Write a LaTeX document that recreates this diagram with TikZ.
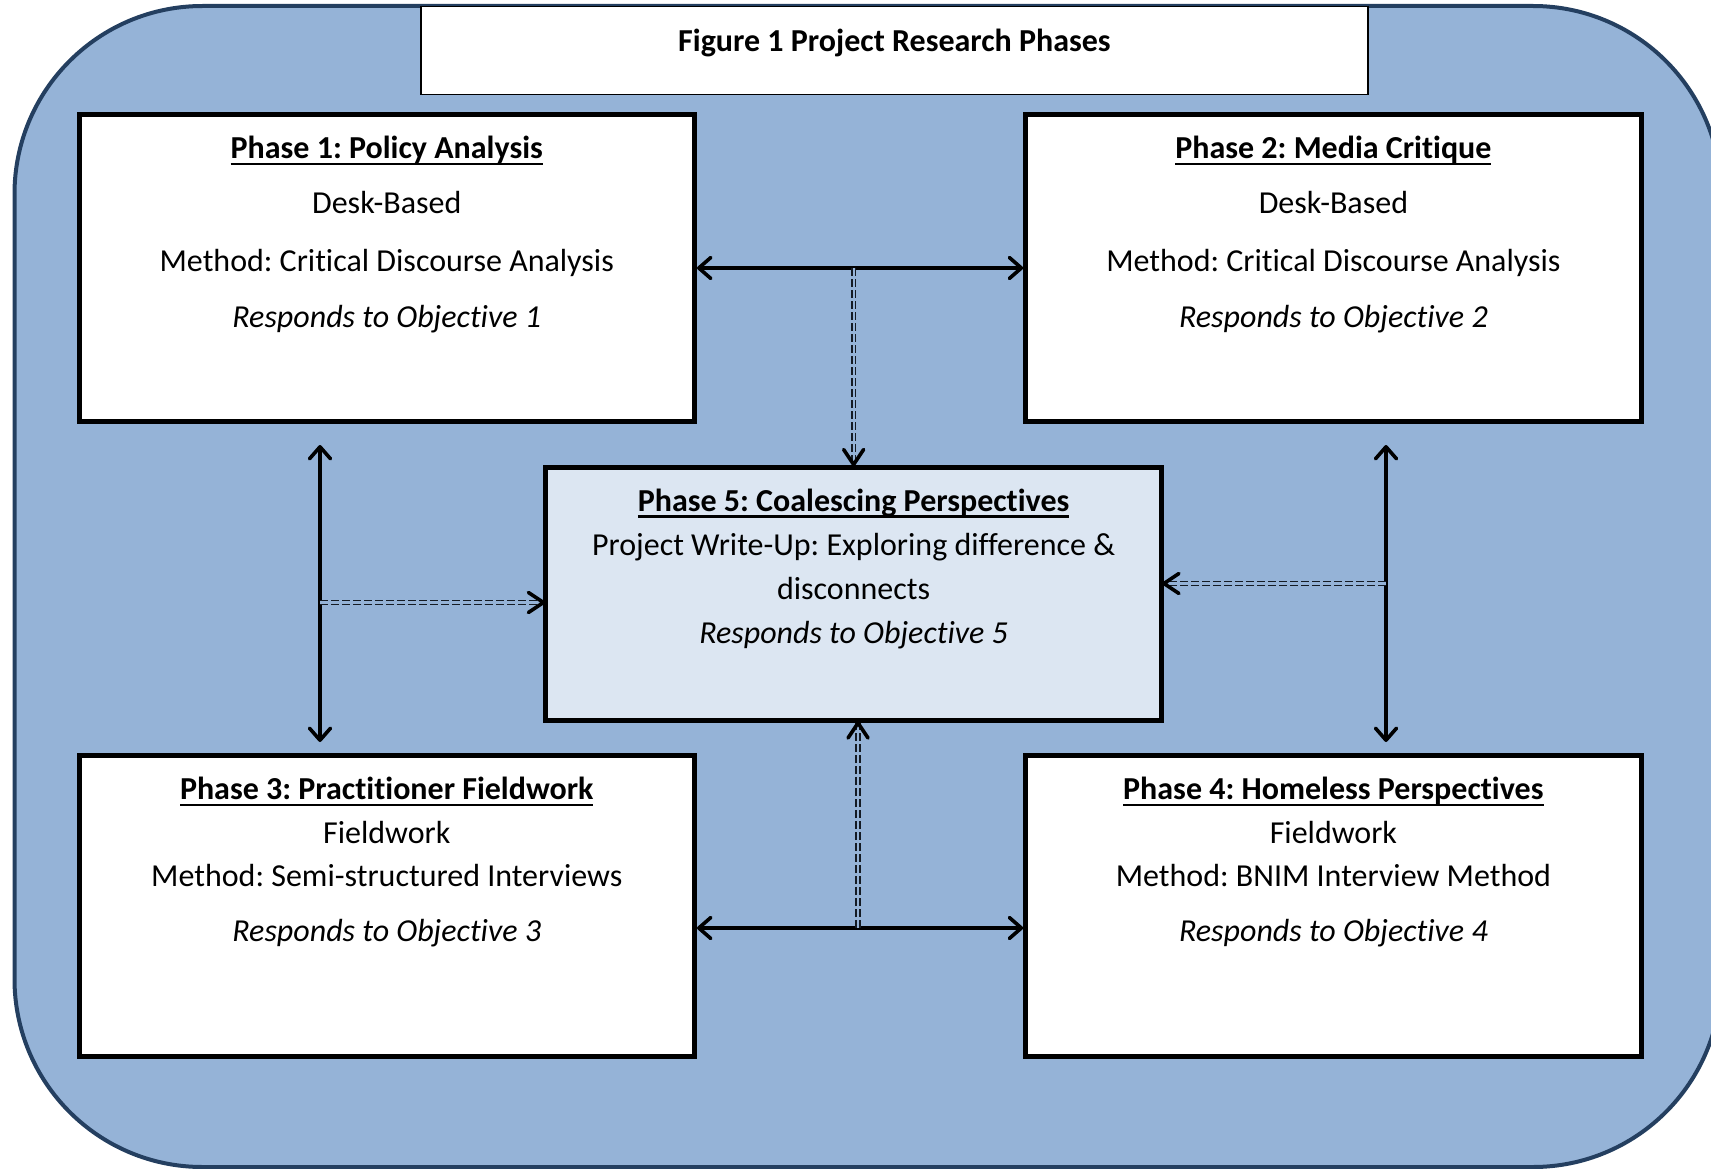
\documentclass[tikz,border=0pt]{standalone}
\usepackage{fontspec}
\setmainfont{Carlito}[Ligatures=NoCommon]
\usetikzlibrary{arrows.meta,calc}
\definecolor{bgblue}{HTML}{95B3D7}
\definecolor{frameblue}{HTML}{243F60}
\definecolor{paleblue}{HTML}{DCE6F2}
\definecolor{dashcol}{HTML}{141B24}
\frenchspacing
\newcommand\ulx[1]{\setbox0=\hbox{#1}\rlap{\rule[-6.5pt]{\wd0}{2.4pt}}\box0}
\tikzset{chev/.tip={Straight Barb[length=12pt,width=21pt,round]}}
\begin{document}
\begin{tikzpicture}[x=1pt,y=-1pt,
  outerframe/.style={draw=frameblue, line width=4pt, fill=bgblue, rounded corners=188pt},
  phasebox/.style={draw=black, line width=5pt, fill=white, inner sep=0pt, minimum width=615.5pt},
  titlebox/.style={draw=black, line width=1.5pt, fill=white, inner sep=0pt, minimum width=947pt, minimum height=88pt},
  txt/.style={anchor=base, inner sep=0pt, font=\fontsize{32pt}{38pt}\selectfont},
  conn/.style={draw=black, line width=3.6pt, {chev}-{chev}},
  dbl/.style={draw=dashcol, line width=1.6pt, double=bgblue, double distance=2.2pt, dash pattern=on 8pt off 3pt},
  chevstroke/.style={draw=black, line width=3.6pt, line cap=round, line join=round}]
\useasboundingbox (0,0) rectangle (1711,1169);
\draw[outerframe] (14.5,6) rectangle (1721,1167);

% title
\node[titlebox] (title) at (894.5,50.5) {};
\node[txt] (titletext) at (894.5,52) {\bfseries Figure 1 Project Research Phases};

% boxes
\node[phasebox, minimum height=307pt] (p1) at (386.75,268) {};
\node[phasebox, minimum height=307pt] (p2) at (1333.4,268) {};
\node[phasebox, minimum height=301.5pt] (p3) at (386.75,905.75) {};
\node[phasebox, minimum height=301.5pt] (p4) at (1333.4,905.75) {};
\node[phasebox, fill=paleblue, minimum height=253.5pt] (p5) at (853.65,593.75) {};

% texts phase 1
\node[txt] (p1a) at (386.75,159) {\bfseries\ulx{Phase 1: Policy Analysis}};
\node[txt] (p1b) at (386.75,214) {Desk-Based};
\node[txt] (p1c) at (386.75,271.5) {Method: Critical Discourse Analysis};
\node[txt] (p1d) at (386.75,327) {\itshape Responds to Objective 1};
% phase 2
\node[txt] (p2a) at (1333.4,159) {\bfseries\ulx{Phase 2: Media Critique}};
\node[txt] (p2b) at (1333.4,214) {Desk-Based};
\node[txt] (p2c) at (1333.4,271.5) {Method: Critical Discourse Analysis};
\node[txt] (p2d) at (1333.4,327) {\itshape Responds to Objective 2};
% phase 5
\node[txt] (p5a) at (853.6,511.3) {\bfseries\ulx{Phase 5: Coalescing Perspectives}};
\node[txt] (p5b) at (853.6,555.3) {Project Write-Up: Exploring difference \&};
\node[txt] (p5c) at (853.6,599.5) {disconnects};
\node[txt] (p5d) at (853.6,643.7) {\itshape Responds to Objective 5};
% phase 3
\node[txt] (p3a) at (386.75,799.5) {\bfseries\ulx{Phase 3: Practitioner Fieldwork}};
\node[txt] (p3b) at (386.75,843) {Fieldwork};
\node[txt] (p3c) at (386.75,886.7) {Method: Semi-structured Interviews};
\node[txt] (p3d) at (386.75,941) {\itshape Responds to Objective 3};
% phase 4
\node[txt] (p4a) at (1333.4,799.5) {\bfseries\ulx{Phase 4: Homeless Perspectives}};
\node[txt] (p4b) at (1333.4,843) {Fieldwork};
\node[txt] (p4c) at (1333.4,886.7) {Method: BNIM Interview Method};
\node[txt] (p4d) at (1333.4,941) {\itshape Responds to Objective 4};

% connector coordinates
\coordinate (topmid) at (p5.north |- p1.east);
\coordinate (lt) at (320,445);
\coordinate (lb) at (320,742);
\coordinate (lmid) at (320,602.5);
\coordinate (rt) at (1386,445);
\coordinate (rb) at (1386,742);
\coordinate (rmid) at (1386,583.5);
\coordinate (botl) at (p3.east |- 0,928);
\coordinate (botr) at (p4.west |- 0,928);
\coordinate (botmid) at (858,928);
\coordinate (p5in) at (p5.west |- lmid);
\coordinate (p5rin) at (p5.east |- rmid);
\coordinate (p5bot) at (botmid |- p5.south);

% solid double arrows
\draw[conn] (p1.east) -- (p2.west);
\draw[conn] (lt) -- (lb);
\draw[conn] (rt) -- (rb);
\draw[conn] (botl) -- (botr);

% dashed double arrows
\draw[dbl] (topmid) -- (p5.north);
\draw[chevstroke] ($(p5.north)+(-10,-15)$) -- (p5.north) -- ($(p5.north)+(10,-15)$);
\draw[dbl] (lmid) -- (p5in);
\draw[chevstroke] ($(p5in)+(-15,-10)$) -- (p5in) -- ($(p5in)+(-15,10)$);
\draw[dbl] (rmid) -- (p5rin);
\draw[chevstroke] ($(p5rin)+(15,-10)$) -- (p5rin) -- ($(p5rin)+(15,10)$);
\draw[dbl] (botmid) -- (p5bot);
\draw[chevstroke] ($(p5bot)+(-10,15)$) -- (p5bot) -- ($(p5bot)+(10,15)$);
\end{tikzpicture}
\end{document}
